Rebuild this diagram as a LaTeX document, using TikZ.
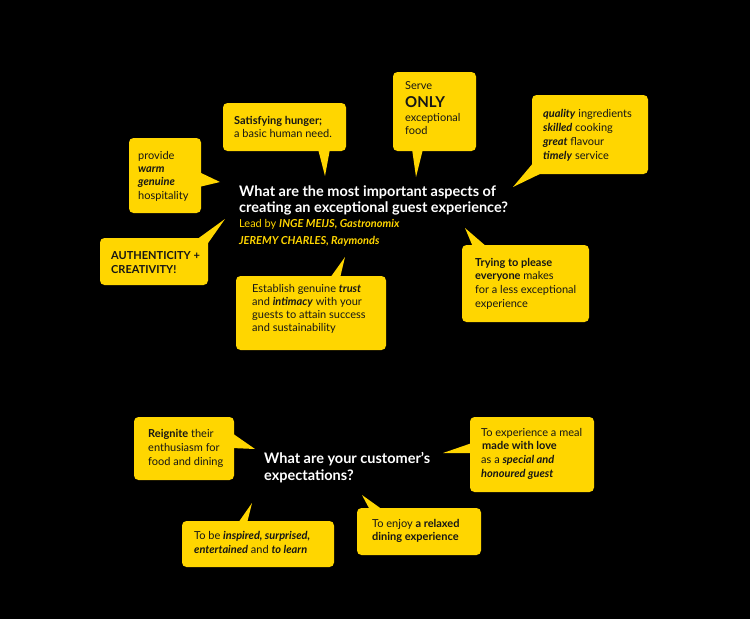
\documentclass[tikz,border=0pt]{standalone}
\usepackage{fontspec}
\setmainfont{Lato}
\usetikzlibrary{calc}
\definecolor{ylw}{RGB}{255,214,0}
\definecolor{ink}{RGB}{22,22,22}
\newcommand{\bi}[1]{\textbf{\textit{#1}}}
\begin{document}
\begin{tikzpicture}[x=1pt,y=-1pt,
  box/.style={fill=ylw, rounded corners=4.5pt},
  txt/.style={anchor=base west, inner sep=0pt, align=left, text=ink, font=\fontsize{11}{13.3}\selectfont},
  qtxt/.style={anchor=base west, inner sep=0pt, align=left, text=white, font=\fontsize{14.5}{16.5}\selectfont\bfseries},
  lead/.style={anchor=base west, inner sep=0pt, align=left, text=ylw, font=\fontsize{11}{17}\selectfont}]
\fill[black] (0,0) rectangle (750,619);
\useasboundingbox (0,0) rectangle (750,619);

% questions (anchors at the baseline of the last line)
\node[qtxt] (q1) at (239,212.5) {What are the most important aspects of\\creating an exceptional guest experience?};
\node[lead] (l1) at (239,244) {Lead by \bi{INGE MEIJS, Gastronomix}\\\bi{JEREMY CHARLES, Raymonds}};
\node[qtxt] (q2) at (264,480) {What are your customer’s\\expectations?};

% b1 Satisfying hunger
\fill[box] (223,103) rectangle (346,151);
\coordinate (t1) at (325,176);
\fill[ylw] (318,149) -- (t1) -- (330,149) -- cycle;
\node[txt] (b1) at (234,137.3) {\textbf{Satisfying hunger;}\\a basic human need.};

% b2 provide warm genuine hospitality
\fill[box] (129,138) rectangle (201,213);
\coordinate (t2) at (220,182);
\fill[ylw] (199,172) -- (t2) -- (199,187) -- cycle;
\node[txt] (b2) at (138,199) {provide\\\bi{warm}\\\bi{genuine}\\hospitality};

% b3 authenticity
\fill[box] (100,238) rectangle (208,285);
\coordinate (t3) at (225,219);
\fill[ylw] (196,240) -- (t3) -- (206,246) -- cycle;
\node[txt, font=\fontsize{11}{14}\selectfont\bfseries] (b3) at (111,273) {AUTHENTICITY +\\CREATIVITY!};

% b4 serve only
\fill[box] (393,72) rectangle (476,151);
\coordinate (t4) at (416,177);
\fill[ylw] (412,149) -- (t4) -- (423,149) -- cycle;
\node[txt] (b4a) at (405,89) {Serve};
\node[txt, font=\fontsize{15}{16}\selectfont\bfseries] (b4b) at (405,107) {ONLY};
\node[txt] (b4c) at (405,134.3) {exceptional\\food};

% b5 quality
\fill[box] (532,95) rectangle (648,174);
\coordinate (t5) at (513,187);
\fill[ylw] (534,162) -- (t5) -- (544,172) -- cycle;
\node[txt, font=\fontsize{11}{14}\selectfont] (b5) at (543,159) {\bi{quality} ingredients\\\bi{skilled} cooking\\\bi{great} flavour\\\bi{timely} service};

% b6 trust
\fill[box] (236,276) rectangle (386,350);
\coordinate (t6) at (345,257);
\fill[ylw] (330,278) -- (t6) -- (340,278) -- cycle;
\node[txt, font=\fontsize{11}{13}\selectfont] (b6) at (252,331) {Establish genuine \bi{trust}\\and \bi{intimacy} with your\\guests to attain success\\and sustainability};

% b7 trying to please
\fill[box] (462,245) rectangle (589,322);
\coordinate (t7) at (465,228);
\fill[ylw] (473,247) -- (t7) -- (487,247) -- cycle;
\node[txt, font=\fontsize{11}{13.6}\selectfont] (b7) at (475,307) {\textbf{Trying to please}\\\textbf{everyone} makes\\for a less exceptional\\experience};

% b8 reignite
\fill[box] (134,417) rectangle (234,480);
\coordinate (t8) at (255,449);
\fill[ylw] (232,433) -- (t8) -- (232,448) -- cycle;
\node[txt, font=\fontsize{11}{14}\selectfont] (b8) at (148,465) {\textbf{Reignite} their\\enthusiasm for\\food and dining};

% b9 experience a meal
\fill[box] (470,417) rectangle (594,492);
\coordinate (t9) at (443,453);
\fill[ylw] (472,443) -- (t9) -- (472,453) -- cycle;
\node[txt, font=\fontsize{11}{13.6}\selectfont] (b9) at (481,477) {To experience a meal\\\hspace{1pt}\textbf{made with love}\\as a \bi{special and}\\\bi{honoured guest}};

% b10 inspired
\fill[box] (182,521) rectangle (334,567);
\coordinate (t10) at (252,503);
\fill[ylw] (238,523) -- (t10) -- (247,523) -- cycle;
\node[txt, font=\fontsize{11}{14}\selectfont] (b10) at (194,553) {To be \bi{inspired, surprised,}\\\bi{entertained} and \bi{to learn}};

% b11 relaxed
\fill[box] (357,508) rectangle (481,555);
\coordinate (t11) at (362,495);
\fill[ylw] (370,510) -- (t11) -- (383,510) -- cycle;
\node[txt, font=\fontsize{11}{13.5}\selectfont] (b11) at (372,540.5) {To enjoy \textbf{a relaxed}\\\textbf{dining experience}};
\end{tikzpicture}
\end{document}
